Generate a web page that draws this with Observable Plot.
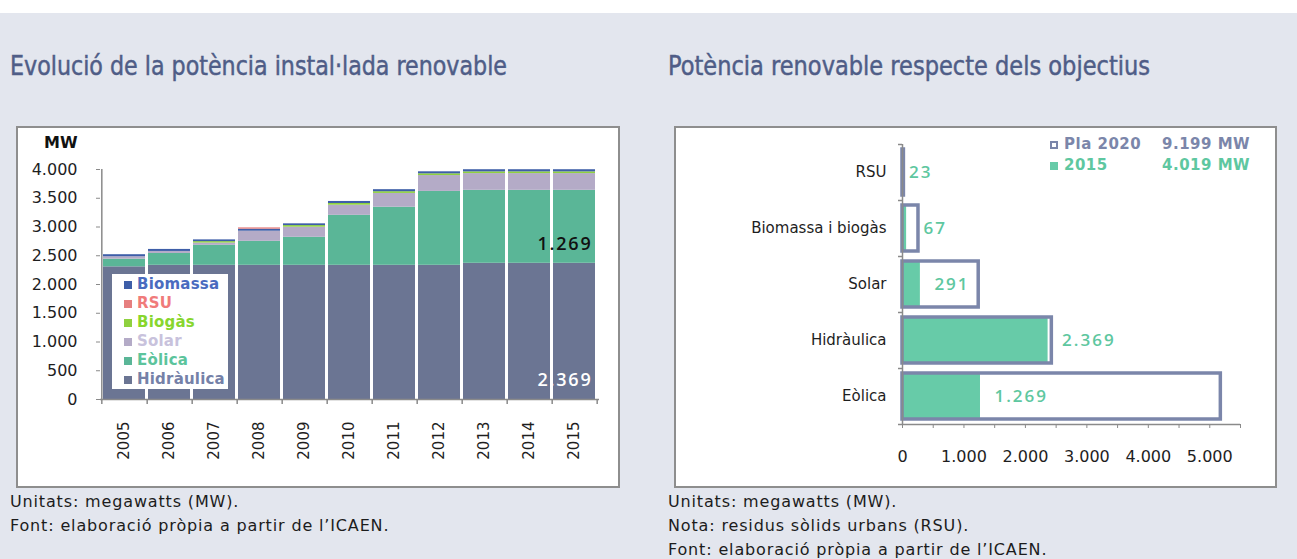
<!DOCTYPE html>
<html>
<head>
<meta charset="utf-8">
<script src="https://cdn.jsdelivr.net/npm/d3@7"></script>
<script src="https://cdn.jsdelivr.net/npm/@observablehq/plot@0.6"></script>
<style>
  html, body { margin: 0; padding: 0; }
  body { width: 1297px; height: 559px; overflow: hidden; background: #e3e6ee; position: relative; font-family: "DejaVu Sans", sans-serif; }
  .abs { position: absolute; }
  #strip { left: 0; top: 0; width: 1297px; height: 13px; background: #ffffff; }
  .box { background: #ffffff; border: 2px solid #8e8e8e; box-sizing: border-box; }
  .note { font-family: "DejaVu Sans", sans-serif; font-size: 16px; letter-spacing: 0.85px; line-height: 24px; color: #1c1c1c; white-space: nowrap; }
  .leg { background: #ffffff; }
  .legrow { position: absolute; height: 19px; line-height: 19px; font-family: "DejaVu Sans", sans-serif; font-weight: bold; font-size: 15px; letter-spacing: 0.2px; white-space: nowrap; }
  .sw { position: absolute; width: 8px; height: 8px; }
</style>
</head>
<body>
<div id="strip" class="abs"></div>
<svg class="abs" style="left:0;top:40px" width="1297" height="50">
  <text x="10" y="35" textLength="497" lengthAdjust="spacingAndGlyphs" font-family="'Liberation Sans Narrow','DejaVu Sans Condensed','Liberation Sans',sans-serif" font-size="26" fill="#4f5d87" stroke="#4f5d87" stroke-width="0.45">Evolució de la potència instal·lada renovable</text>
  <text x="668" y="35" textLength="482" lengthAdjust="spacingAndGlyphs" font-family="'Liberation Sans Narrow','DejaVu Sans Condensed','Liberation Sans',sans-serif" font-size="26" fill="#4f5d87" stroke="#4f5d87" stroke-width="0.45">Potència renovable respecte dels objectius</text>
</svg>
<div id="boxL" class="abs box" style="left:16px;top:126px;width:604px;height:362px"></div>
<div id="boxR" class="abs box" style="left:674px;top:126px;width:603px;height:362px"></div>
<div id="chartL" class="abs" style="left:16px;top:126px"></div>
<div id="chartR" class="abs" style="left:674px;top:126px"></div>
<div class="abs" style="left:44px;top:133px;font-family:'DejaVu Sans',sans-serif;font-weight:bold;font-size:16px;color:#111">MW</div>
<div id="legL" class="abs leg" style="left:112px;top:274px;width:116px;height:115px"></div>
<div id="legR" class="abs" style="left:1040px;top:134px;width:230px;height:44px"></div>
<div class="abs note" style="left:10px;top:490px">Unitats: megawatts (MW).<br>Font: elaboració pròpia a partir de l’ICAEN.</div>
<div class="abs note" style="left:668px;top:490px">Unitats: megawatts (MW).<br>Nota: residus sòlids urbans (RSU).<br>Font: elaboració pròpia a partir de l’ICAEN.</div>

<script>
// ---------- DATA ----------
const years = ["2005","2006","2007","2008","2009","2010","2011","2012","2013","2014","2015"];
const seriesNames = ["Hidràulica","Eòlica","Solar","Biogàs","Biomassa","RSU"];
const hidraulica = [2307, 2334, 2334, 2334, 2334, 2334, 2334, 2334, 2369, 2369, 2369];
const eolica     = [ 134,  206,  347,  417,  487,  869, 1010, 1285, 1269, 1269, 1269];
const solar      = [  42,   35,   40,  176,  176,  176,  240,  276,  291,  291,  291];
const biogas     = [   0,    0,   25,    0,   28,   30,   30,   30,   30,   30,   30];
const biomassa   = [  35,   35,   30,   35,   30,   35,   35,   35,   37,   37,   37];
const rsu        = [   0,    0,    0,   23,    0,    0,    0,    0,    0,    0,    0];
const yTicks = [0, 500, 1000, 1500, 2000, 2500, 3000, 3500, 4000];

const objCategories = ["RSU", "Biomassa i biogàs", "Solar", "Hidràulica", "Eòlica"];
const pla2020  = [23, 260, 1240, 2430, 5180];
const actual2015 = [23, 67, 291, 2369, 1269];
const xTicksR = [0, 500, 1000, 1500, 2000, 2500, 3000, 3500, 4000, 4500, 5000, 5500];
const legendR = [
  {name: "Pla 2020", total: 9199},
  {name: "2015", total: 4019}
];

// ---------- STYLE ----------
const barColors = ["#6b7593", "#5ab697", "#b4abc7", "#8fd13f", "#3e5ea8", "#e67f7f"];
const legTextColors = {"Hidràulica": "#7581a8", "Eòlica": "#5cc49c", "Solar": "#c8c2dc", "Biogàs": "#88d62e", "Biomassa": "#4a6bbf", "RSU": "#f07b7b"};
const legOrder = ["Biomassa", "RSU", "Biogàs", "Solar", "Eòlica", "Hidràulica"];
const axisGrey = "#8a8a8a";
const planColor = "#7b86aa";
const greenR = "#67cba8";
const greenText = "#5ec7a0";
const labelFont = "'Open Sans', sans-serif";

const fmt = d3.formatLocale({decimal: ",", thousands: ".", grouping: [3], currency: ["", "€"]}).format(",d");

// ---------- LEFT CHART ----------
const seriesValues = [hidraulica, eolica, solar, biogas, biomassa, rsu];
const rows = [];
seriesNames.forEach((s, i) => years.forEach((y, j) => rows.push({year: y, series: s, value: seriesValues[i][j]})));

const L = {w: 604, h: 362, ml: 84, mr: 21, mt: 43, mb: 89};
const stepX = (L.w - L.ml - L.mr) / years.length;
const mwPerPxL = 4000 / (L.h - L.mt - L.mb);
const last = years.length - 1;

const left = Plot.plot({
  width: L.w, height: L.h,
  marginLeft: L.ml, marginRight: L.mr, marginTop: L.mt, marginBottom: L.mb,
  style: {background: "transparent", fontFamily: "'DejaVu Sans', sans-serif", color: "#1e1e1e", overflow: "visible"},
  x: {domain: years, paddingInner: 0.06, paddingOuter: 0.03},
  y: {domain: [0, 4000]},
  color: {domain: seriesNames, range: barColors},
  marks: [
    Plot.barY(rows, Plot.stackY({x: "year", y: "value", fill: "series"})),
    Plot.ruleY([0], {stroke: axisGrey, strokeWidth: 1.5}),
    Plot.ruleX([years[0]], {dx: -stepX / 2, y1: 0, y2: 4000, stroke: axisGrey, strokeWidth: 1.5}),
    Plot.ruleX(years, {dx: stepX / 2, y1: 0, y2: -5 * mwPerPxL, stroke: axisGrey, strokeWidth: 1.5}),
    Plot.ruleX([years[0]], {dx: -stepX / 2, y1: 0, y2: -5 * mwPerPxL, stroke: axisGrey, strokeWidth: 1.5}),
    Plot.axisY({ticks: yTicks, tickFormat: fmt, tickSize: 4, tickPadding: 19, stroke: axisGrey, fill: "#1e1e1e", fontSize: 16, label: null}),
    Plot.axisX({tickSize: 0, tickPadding: 22, tickRotate: -90, fill: "#1e1e1e", fontSize: 15, label: null}),
    Plot.text([{year: years[last], y: hidraulica[last] + eolica[last] / 2, t: fmt(eolica[last])}],
      {x: "year", y: "y", text: "t", dy: 17, dx: 18, textAnchor: "end", fill: "#111111", fontSize: 18, fontWeight: 600, fontFamily: labelFont}),
    Plot.text([{year: years[last], y: 0, t: fmt(hidraulica[last])}],
      {x: "year", y: "y", text: "t", dy: -19, dx: 18, textAnchor: "end", fill: "#ffffff", fontSize: 18, fontWeight: 600, fontFamily: labelFont})
  ]
});
d3.select(left).selectAll('g[aria-label="text"] text').attr("letter-spacing", "1.8px");
document.getElementById("chartL").appendChild(left);

// legend left
const legL = document.getElementById("legL");
legOrder.forEach((name, i) => {
  const color = barColors[seriesNames.indexOf(name)];
  const sw = document.createElement("div");
  sw.className = "sw";
  sw.style.left = "12px";
  sw.style.top = (7 + i * 19) + "px";
  sw.style.background = color;
  legL.appendChild(sw);
  const r = document.createElement("div");
  r.className = "legrow";
  r.style.left = "25px";
  r.style.top = (1 + i * 19) + "px";
  r.style.color = legTextColors[name];
  r.textContent = name;
  legL.appendChild(r);
});

// ---------- RIGHT CHART ----------
const objRows = objCategories.map((c, i) => ({cat: c, plan: pla2020[i], v2015: actual2015[i]}));
const R = {w: 603, h: 362, ml: 228, mr: 37, mt: 18, mb: 64};
const stepY = (R.h - R.mt - R.mb) / objCategories.length;
const mwPerPxR = 5500 / (R.w - R.ml - R.mr);

const right = Plot.plot({
  width: R.w, height: R.h,
  marginLeft: R.ml, marginRight: R.mr, marginTop: R.mt, marginBottom: R.mb,
  style: {background: "transparent", fontFamily: "'DejaVu Sans', sans-serif", color: "#1e1e1e", overflow: "visible"},
  x: {domain: [0, 5500]},
  y: {domain: objCategories, paddingInner: 0.18, paddingOuter: 0.09},
  marks: [
    Plot.barX(objRows, {x: "plan", y: "cat", fill: "white"}),
    Plot.barX(objRows, {x: "v2015", y: "cat", fill: greenR}),
    Plot.barX(objRows, {x: "plan", y: "cat", fill: "none", stroke: planColor, strokeWidth: 3.5}),
    Plot.ruleX([0], {stroke: axisGrey, strokeWidth: 1.5}),
    Plot.ruleY([objCategories[objCategories.length - 1]], {dy: stepY / 2, stroke: axisGrey, strokeWidth: 1.5}),
    Plot.ruleY(objCategories, {dy: -stepY / 2, x1: 0, x2: -4 * mwPerPxR, stroke: axisGrey, strokeWidth: 1.5}),
    Plot.ruleY([objCategories[objCategories.length - 1]], {dy: stepY / 2, x1: 0, x2: -4 * mwPerPxR, stroke: axisGrey, strokeWidth: 1.5}),
    Plot.axisX({ticks: xTicksR, tickFormat: d => d % 1000 === 0 ? fmt(d) : "", tickSize: 4, tickPadding: 22, stroke: axisGrey, fill: "#1e1e1e", fontSize: 16, label: null}),
    Plot.axisY({tickSize: 0, tickPadding: 16, fill: "#1e1e1e", fontSize: 15, label: null}),
    Plot.text(objRows.filter(d => d.plan < 400), {x: "plan", y: "cat", text: d => fmt(d.v2015), dx: 5, textAnchor: "start", fill: greenText, fontSize: 17, fontWeight: 600, fontFamily: labelFont}),
    Plot.text(objRows.filter(d => d.plan >= 400), {x: "v2015", y: "cat", text: d => fmt(d.v2015), dx: 14, textAnchor: "start", fill: greenText, fontSize: 17, fontWeight: 600, fontFamily: labelFont})
  ]
});
d3.select(right).selectAll('g[aria-label="text"] text').attr("letter-spacing", "2px");
document.getElementById("chartR").appendChild(right);

// legend right
const legR = document.getElementById("legR");
legendR.forEach((d, i) => {
  const col = i === 0 ? planColor : greenText;
  const sw = document.createElement("div");
  sw.className = "sw";
  sw.style.left = "10px";
  sw.style.top = (7 + i * 21) + "px";
  sw.style.boxSizing = "border-box";
  if (i === 0) { sw.style.border = "2px solid " + col; sw.style.background = "#fff"; }
  else { sw.style.background = greenR; }
  legR.appendChild(sw);
  const a = document.createElement("div");
  a.className = "legrow";
  a.style.left = "24px"; a.style.top = (1 + i * 21) + "px";
  a.style.color = col; a.style.letterSpacing = "0.5px";
  a.textContent = d.name;
  legR.appendChild(a);
  const b = document.createElement("div");
  b.className = "legrow";
  b.style.left = "122px"; b.style.top = (1 + i * 21) + "px";
  b.style.color = col; b.style.letterSpacing = "0.5px";
  b.textContent = fmt(d.total) + " MW";
  legR.appendChild(b);
});
</script>
</body>
</html>
